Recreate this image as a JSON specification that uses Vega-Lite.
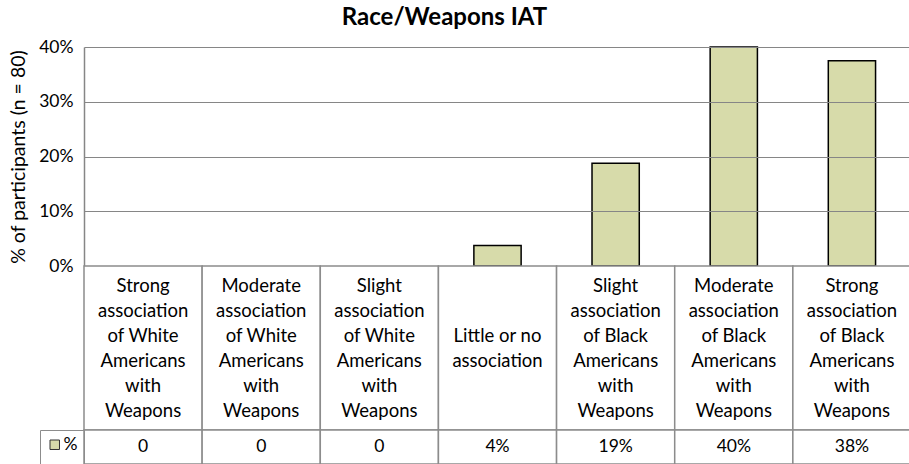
{
  "$schema": "https://vega.github.io/schema/vega-lite/v6.json",
  "padding": {"left": 8, "top": 6, "right": 0, "bottom": 0},
  "autosize": {"type": "pad"},
  "background": "white",
  "config": {"view": {"stroke": null}, "font": "Lato", "concat": {"spacing": 0}},
  "data": {"values": [
    {"category": "Strong\nassociation\nof White\nAmericans\nwith\nWeapons", "value": 0, "shown": "0"},
    {"category": "Moderate\nassociation\nof White\nAmericans\nwith\nWeapons", "value": 0, "shown": "0"},
    {"category": "Slight\nassociation\nof White\nAmericans\nwith\nWeapons", "value": 0, "shown": "0"},
    {"category": "Little or no\nassociation", "value": 3.75, "shown": "4%"},
    {"category": "Slight\nassociation\nof Black\nAmericans\nwith\nWeapons", "value": 18.75, "shown": "19%"},
    {"category": "Moderate\nassociation\nof Black\nAmericans\nwith\nWeapons", "value": 40, "shown": "40%"},
    {"category": "Strong\nassociation\nof Black\nAmericans\nwith\nWeapons", "value": 37.5, "shown": "38%"}
  ]},
  "spacing": 0,
  "bounds": "flush",
  "resolve": {"scale": {"x": "independent", "fill": "independent"}, "legend": {"fill": "independent"}},
  "vconcat": [
    {
      "title": {"text": "Race/Weapons IAT", "fontSize": 24, "fontWeight": "bold", "font": "Lato", "anchor": "middle", "frame": "group", "offset": 8, "dx": -53, "color": "black"},
      "width": 827,
      "height": 219,
      "layer": [
        {
          "transform": [{"filter": "datum.value > 0"}],
          "mark": {"type": "bar", "fill": "#d7dbaa", "stroke": "#000000", "strokeWidth": 1.5},
          "encoding": {
            "x": {"field": "category", "type": "nominal", "sort": null, "scale": {"domain": [
              "Strong\nassociation\nof White\nAmericans\nwith\nWeapons",
              "Moderate\nassociation\nof White\nAmericans\nwith\nWeapons",
              "Slight\nassociation\nof White\nAmericans\nwith\nWeapons",
              "Little or no\nassociation",
              "Slight\nassociation\nof Black\nAmericans\nwith\nWeapons",
              "Moderate\nassociation\nof Black\nAmericans\nwith\nWeapons",
              "Strong\nassociation\nof Black\nAmericans\nwith\nWeapons"], "paddingInner": 0.6, "paddingOuter": 0.3}, "axis": null},
            "y": {"field": "value", "type": "quantitative", "scale": {"domain": [0, 40], "nice": false},
              "axis": {"title": "% of participants (n = 80)", "titleFontSize": 19.5, "titleFontWeight": "normal", "titleColor": "black", "titlePadding": 10,
                "values": [0, 10, 20, 30, 40], "labelExpr": "datum.value + '%'", "labelFontSize": 17.5, "labelColor": "black", "labelPadding": 11,
                "ticks": false, "domainColor": "#868686", "domainWidth": 1.5, "gridColor": "#868686", "gridWidth": 1, "grid": true, "zindex": 1}}
          }
        }
      ]
    },
    {
      "width": 827,
      "height": 164,
      "layer": [
        {
          "mark": {"type": "rect", "fill": "white", "stroke": "#8c8c8c", "strokeWidth": 1.5},
          "encoding": {
            "x": {"field": "category", "type": "nominal", "sort": null, "scale": {"paddingInner": 0, "paddingOuter": 0}, "axis": null}
          }
        },
        {
          "transform": [{"filter": "indexof(datum.category, 'Little') < 0"}],
          "mark": {"type": "text", "lineBreak": "\n", "lineHeight": 25, "fontSize": 18.5, "color": "black", "baseline": "middle", "dy": -62.5},
          "encoding": {
            "x": {"field": "category", "type": "nominal", "sort": null, "axis": null},
            "text": {"field": "category"}
          }
        },
        {
          "transform": [{"filter": "indexof(datum.category, 'Little') >= 0"}],
          "mark": {"type": "text", "lineBreak": "\n", "lineHeight": 25, "fontSize": 18.5, "color": "black", "baseline": "middle", "dy": -12.5},
          "encoding": {
            "x": {"field": "category", "type": "nominal", "sort": null, "axis": null},
            "text": {"field": "category"}
          }
        }
      ]
    },
    {
      "width": 827,
      "height": 34,
      "layer": [
        {
          "mark": {"type": "rect", "fill": "white", "stroke": "#8c8c8c", "strokeWidth": 1.5},
          "encoding": {
            "x": {"field": "category", "type": "nominal", "sort": null, "scale": {"paddingInner": 0, "paddingOuter": 0}, "axis": null}
          }
        },
        {
          "mark": {"type": "text", "fontSize": 17.5, "color": "black", "baseline": "middle"},
          "encoding": {
            "x": {"field": "category", "type": "nominal", "sort": null, "axis": null},
            "text": {"field": "shown"}
          }
        },
        {
          "mark": {"type": "square", "opacity": 0},
          "encoding": {
            "x": {"field": "category", "type": "nominal", "sort": null, "axis": null},
            "fill": {"datum": "%", "type": "nominal", "scale": {"range": ["#d7dbaa"]},
              "legend": {"orient": "left", "offset": 0, "title": " ", "titleOrient": "bottom", "titleFontSize": 8, "titlePadding": 0,
                "strokeColor": "#8c8c8c", "padding": 6,
                "symbolType": "square", "symbolSize": 90, "symbolStrokeColor": "#333333", "symbolStrokeWidth": 1, "symbolOpacity": 1,
                "labelFontSize": 17.5, "labelColor": "black", "labelOffset": 0}}
          }
        }
      ]
    }
  ]
}
